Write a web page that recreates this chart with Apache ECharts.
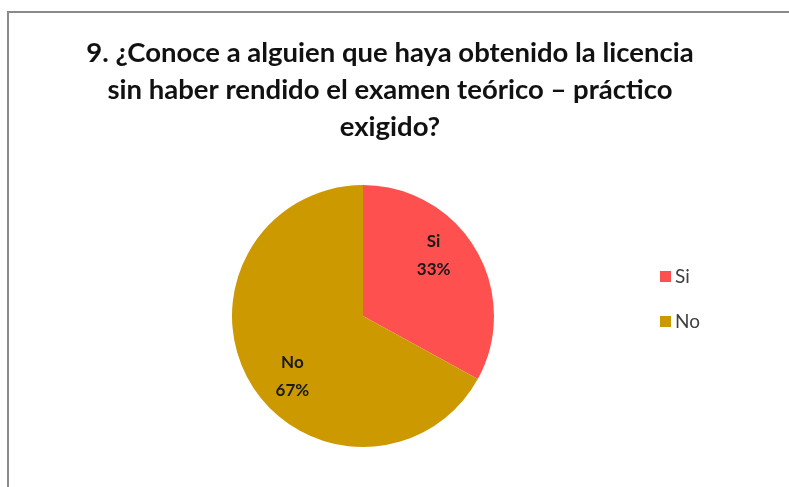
<!DOCTYPE html>
<html>
<head>
<meta charset="utf-8">
<script src="https://cdn.jsdelivr.net/npm/echarts@6/dist/echarts.min.js"></script>
<style>
  html, body { margin: 0; padding: 0; background: #fff; }
  #chart { width: 789px; height: 487px; }
</style>
</head>
<body>
<div id="chart"></div>
<script>
const titleLines = [
  '9. ¿Conoce a alguien que haya obtenido la licencia',
  'sin haber rendido el examen teórico – práctico',
  'exigido?'
]
const categories = ['Si', 'No']
const values = [33, 67]
const colors = ['#FF5050', '#CC9900']

const pieData = categories.map((name, i) => ({
  name,
  value: values[i],
  itemStyle: { color: colors[i] }
}))
const labelData = categories.map((name, i) => ({ name, value: values[i] }))

const chart = echarts.init(document.getElementById('chart'), null, { renderer: 'canvas' })

chart.setOption({
  animation: false,
  title: {
    text: titleLines.join('\n'),
    left: 385,
    top: 30,
    textAlign: 'center',
    textStyle: {
      fontFamily: 'Lato',
      fontWeight: 'bold',
      fontSize: 27.5,
      lineHeight: 37,
      color: '#111'
    }
  },
  graphic: [{
    type: 'rect',
    shape: { x: 8, y: 12, width: 800, height: 500 },
    style: { fill: 'none', stroke: '#8a8a8a', lineWidth: 2 },
    silent: true
  }],
  legend: {
    orient: 'vertical',
    left: 655,
    top: 262,
    itemWidth: 11,
    itemHeight: 11,
    itemGap: 26,
    icon: 'rect',
    data: categories,
    textStyle: { fontFamily: 'Lato', fontSize: 19, color: '#404040', padding: [0, 0, 0, -1] }
  },
  series: [
    {
      type: 'pie',
      center: [363, 316],
      radius: 131,
      startAngle: 90,
      clockwise: true,
      data: pieData,
      label: { show: false },
      labelLine: { show: false },
      silent: true
    },
    {
      // transparent overlay used only to place the labels like the original
      type: 'pie',
      center: [363, 316],
      radius: [52, 128],
      startAngle: 100,
      clockwise: true,
      data: labelData,
      itemStyle: { color: 'rgba(0,0,0,0)' },
      label: {
        show: true,
        position: 'inside',
        formatter: '{b}\n{d}%',
        fontFamily: 'Lato',
        fontWeight: 'bold',
        fontSize: 17,
        lineHeight: 28,
        color: '#1a1a1a'
      },
      labelLine: { show: false },
      silent: true
    }
  ]
})
</script>
</body>
</html>
